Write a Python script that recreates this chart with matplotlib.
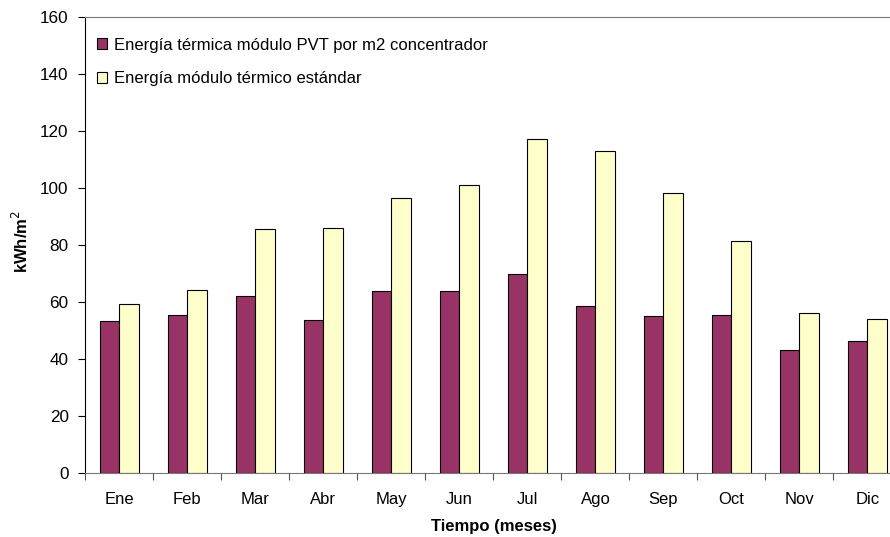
import matplotlib
matplotlib.use("Agg")
import matplotlib.pyplot as plt
import numpy as np

plt.rcParams['font.family'] = ['Liberation Sans', 'DejaVu Sans']

meses = ["Ene", "Feb", "Mar", "Abr", "May", "Jun", "Jul", "Ago", "Sep", "Oct", "Nov", "Dic"]
pvt_concentrador = [53.2, 55.2, 61.9, 53.6, 63.6, 63.6, 69.6, 58.6, 55.1, 55.4, 43.0, 46.2]
termico_estandar = [59.3, 64.0, 85.4, 85.9, 96.3, 101.1, 117.2, 113.0, 98.2, 81.4, 55.9, 53.9]
y_ticks = [0, 20, 40, 60, 80, 100, 120, 140, 160]

fig = plt.figure(figsize=(8.9, 5.37), dpi=100)
W, H = 890, 537
left, right, top, bottom = 85.3, 901.5, 16.7, 472.7
ax = fig.add_axes([left / W, 1 - bottom / H, (right - left) / W, (bottom - top) / H])

x = np.arange(len(meses))
bw = 0.284
ax.bar(x - bw / 2, pvt_concentrador, width=bw, color="#993366", edgecolor="black",
       linewidth=0.8, label="Energía térmica módulo PVT por m2 concentrador")
ax.bar(x + bw / 2, termico_estandar, width=bw, color="#FFFFCC", edgecolor="black",
       linewidth=0.8, label="Energía módulo térmico estándar")

ax.set_xlim(-0.5, len(meses) - 0.5)
ax.set_ylim(0, 160)
ax.set_yticks(y_ticks)
ax.set_xticks(x)
ax.set_xticklabels(meses)
ax.set_xticks(np.arange(-0.5, len(meses)), minor=True)
ax.tick_params(axis="x", which="major", length=0, pad=14, labelsize=12)
ax.tick_params(axis="x", which="minor", length=5, width=0.8, color="#555555", direction="out")
ax.tick_params(axis="y", length=5, width=0.8, direction="out", pad=7, labelsize=12.3)

for s in ["top", "right", "bottom"]:
    ax.spines[s].set_color("#777777")
    ax.spines[s].set_linewidth(0.8)
ax.spines["left"].set_color("black")
ax.spines["left"].set_linewidth(0.8)

fig.text(494 / W, 1 - 527 / H, "Tiempo (meses)", fontweight="bold", fontsize=12,
         ha="center", va="center")
fig.text(21 / W, 1 - 242 / H, "kWh/m$^2$", fontweight="bold", fontsize=12,
         ha="center", va="center", rotation=90)

leg = ax.legend(loc="upper left",
                bbox_to_anchor=((90 - left) / (right - left), 1 - (31 - top) / (bottom - top)),
                frameon=False, fontsize=12, handlelength=0.6, handleheight=0.6,
                handletextpad=0.45, labelspacing=1.12, borderaxespad=0)

fig.savefig("out.png", dpi=100)
